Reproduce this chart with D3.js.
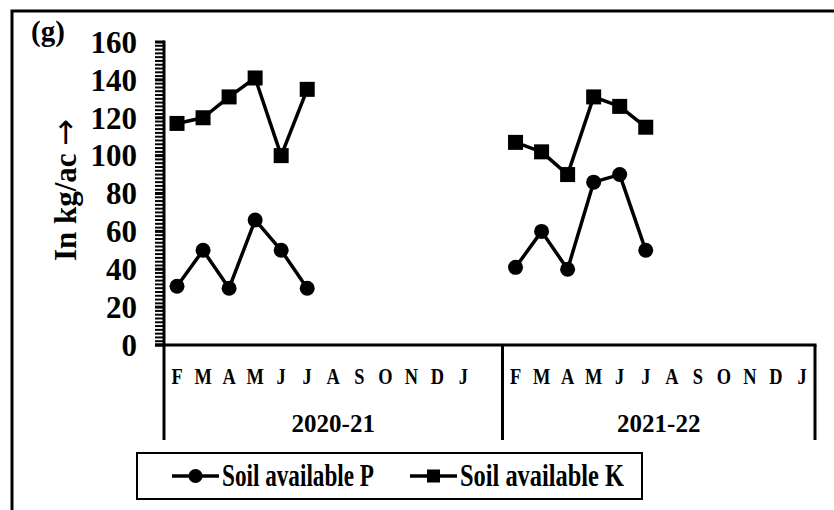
<!DOCTYPE html>
<html>
<head>
<meta charset="utf-8">
<script src="https://cdn.jsdelivr.net/npm/d3@7"></script>
<style>
  html, body { margin: 0; padding: 0; background: #fff; }
  svg { display: block; }
  text { font-family: 'Liberation Serif', 'Times New Roman', serif; font-weight: bold; fill: #000; }
</style>
</head>
<body>
<svg id="chart" width="834" height="510"></svg>
<script>
// ── Data ───────────────────────────────────────────────────
const months = ['F', 'M', 'A', 'M', 'J', 'J', 'A', 'S', 'O', 'N', 'D', 'J'];
const years = ['2020-21', '2021-22'];
const yTicks = [0, 20, 40, 60, 80, 100, 120, 140, 160];

const soilP2020 = [31, 50, 30, 66, 50, 30];
const soilK2020 = [117, 120, 131, 141, 100, 135];
const soilP2021 = [41, 60, 40, 86, 90, 50];
const soilK2021 = [107, 102, 90, 131, 126, 115];

const seriesNames = ['Soil available P', 'Soil available K'];

// ── Setup ──────────────────────────────────────────────────
const svg = d3.select('#chart');
const x0 = 164, x1 = 815, yTop = 42, yBase = 345;

// 25 slots: 12 months, one empty slot, then 12 months
const x = d3.scaleBand().domain(d3.range(25)).range([x0, x1]).padding(0);
const y = d3.scaleLinear().domain([0, 160]).range([yBase, yTop]);
const cx = i => x(i) + x.bandwidth() / 2;

// Outer frame (runs past the right / bottom edge)
svg.append('rect')
  .attr('x', 12).attr('y', 11)
  .attr('width', 900).attr('height', 600)
  .attr('fill', 'none').attr('stroke', '#000').attr('stroke-width', 3);

svg.append('text')
  .attr('x', 31).attr('y', 41)
  .attr('font-size', '29px')
  .text('(g)');

// ── Y axis ─────────────────────────────────────────────────
const yAxis = svg.append('g');
yAxis.selectAll('.minor')
  .data(d3.range(0, 161, 2))
  .enter().append('line')
  .attr('x1', x0 - 9).attr('x2', x0)
  .attr('y1', d => y(d)).attr('y2', d => y(d))
  .attr('stroke', '#000')
  .attr('stroke-width', d => d % 20 === 0 ? 3 : 2);

yAxis.append('line')
  .attr('x1', x0).attr('x2', x0)
  .attr('y1', yTop - 1.5).attr('y2', yBase)
  .attr('stroke', '#000').attr('stroke-width', 3);

yAxis.selectAll('.lbl')
  .data(yTicks)
  .enter().append('text')
  .attr('x', 137).attr('y', d => y(d))
  .attr('dy', '0.35em')
  .attr('text-anchor', 'end')
  .attr('font-size', '31px')
  .text(d => d);

const yTitle = svg.append('text')
  .attr('transform', 'translate(76,190) rotate(-90)')
  .attr('text-anchor', 'middle')
  .attr('font-size', '31px');
yTitle.append('tspan').text('In kg/ac ');
yTitle.append('tspan')
  .attr('font-family', 'DejaVu Sans')
  .attr('font-weight', 'normal')
  .attr('font-size', '32px')
  .text('\u2192');

// ── X axis (two-level categories) ──────────────────────────
svg.append('line')
  .attr('x1', x0 - 9).attr('x2', x1 + 1.5)
  .attr('y1', yBase).attr('y2', yBase)
  .attr('stroke', '#000').attr('stroke-width', 3);

const groupStarts = [0, 13];
const dividers = [x(0), x(13), x(24) + x.bandwidth()];
svg.selectAll('.div')
  .data(dividers)
  .enter().append('line')
  .attr('x1', d => d).attr('x2', d => d)
  .attr('y1', yBase).attr('y2', 440)
  .attr('stroke', '#000').attr('stroke-width', 3);

groupStarts.forEach((s, g) => {
  svg.selectAll(null)
    .data(months)
    .enter().append('text')
    .attr('transform', (d, i) => `translate(${cx(s + i)},384) scale(0.8,1)`)
    .attr('text-anchor', 'middle')
    .attr('font-size', '23px')
    .text(d => d);

  svg.append('text')
    .attr('x', (dividers[g] + dividers[g + 1]) / 2)
    .attr('y', 432)
    .attr('text-anchor', 'middle')
    .attr('font-size', '25px')
    .text(years[g]);
});

// ── Series ─────────────────────────────────────────────────
const line = d3.line().x(d => cx(d.i)).y(d => y(d.v));
const toPts = (vals, start) => vals.map((v, k) => ({ i: start + k, v }));

const pSeries = [toPts(soilP2020, 0), toPts(soilP2021, 13)];
const kSeries = [toPts(soilK2020, 0), toPts(soilK2021, 13)];

[...pSeries, ...kSeries].forEach(pts => {
  svg.append('path')
    .datum(pts)
    .attr('d', line)
    .attr('fill', 'none')
    .attr('stroke', '#000')
    .attr('stroke-width', 3.5)
    .attr('stroke-linejoin', 'round');
});

pSeries.forEach(pts => {
  svg.selectAll(null)
    .data(pts)
    .enter().append('circle')
    .attr('cx', d => cx(d.i)).attr('cy', d => y(d.v))
    .attr('r', 7.5)
    .attr('fill', '#000');
});

kSeries.forEach(pts => {
  svg.selectAll(null)
    .data(pts)
    .enter().append('rect')
    .attr('x', d => cx(d.i) - 7.5).attr('y', d => y(d.v) - 7.5)
    .attr('width', 15).attr('height', 15)
    .attr('fill', '#000');
});

// ── Legend ─────────────────────────────────────────────────
const legend = svg.append('g');
legend.append('rect')
  .attr('x', 137).attr('y', 453)
  .attr('width', 505).attr('height', 46)
  .attr('fill', '#fff').attr('stroke', '#000').attr('stroke-width', 2);

const legendItems = [
  { name: seriesNames[0], x: 172, w: 152, shape: 'circle' },
  { name: seriesNames[1], x: 410, w: 164, shape: 'square' }
];
legendItems.forEach(it => {
  legend.append('line')
    .attr('x1', it.x).attr('x2', it.x + 47)
    .attr('y1', 476).attr('y2', 476)
    .attr('stroke', '#000').attr('stroke-width', 3.5);
  if (it.shape === 'circle') {
    legend.append('circle')
      .attr('cx', it.x + 23.5).attr('cy', 476).attr('r', 7)
      .attr('fill', '#000');
  } else {
    legend.append('rect')
      .attr('x', it.x + 17).attr('y', 469.5)
      .attr('width', 13).attr('height', 13)
      .attr('fill', '#000');
  }
  legend.append('text')
    .attr('x', it.x + 50).attr('y', 486)
    .attr('font-size', '31px')
    .attr('textLength', it.w)
    .attr('lengthAdjust', 'spacingAndGlyphs')
    .text(it.name);
});
</script>
</body>
</html>
